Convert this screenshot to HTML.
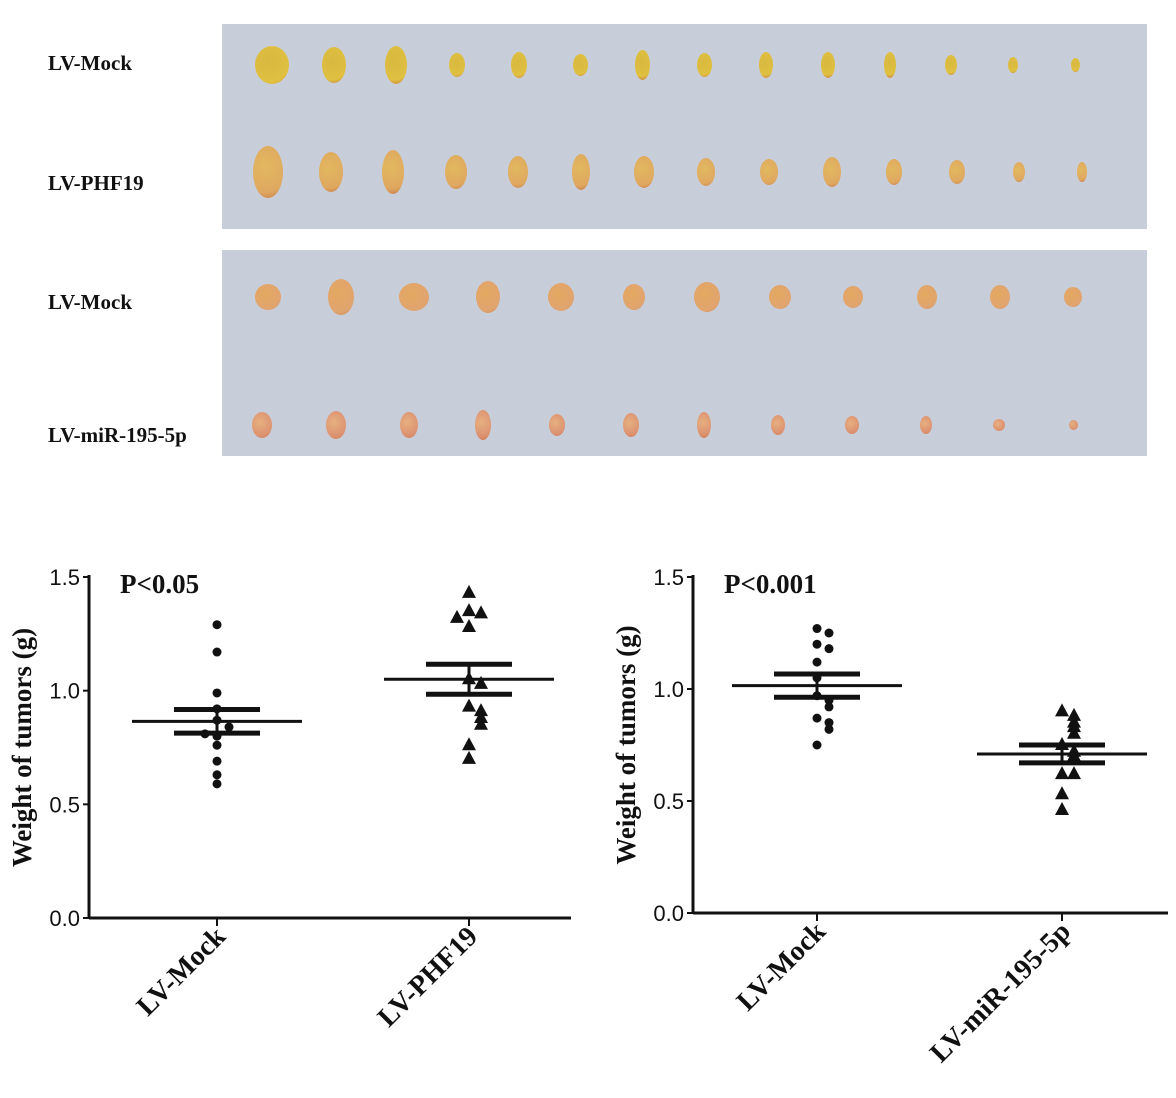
<!DOCTYPE html>
<html><head><meta charset="utf-8"><style>
body{margin:0;width:1176px;height:1098px;background:#fff;position:relative;overflow:hidden;font-family:"Liberation Serif",serif}
.lbl{position:absolute;font-weight:bold;font-size:21px;color:#111}
.panel{position:absolute;left:222px;width:925px;background:#c8ced9}
.t{position:absolute;border-radius:50%}
</style></head><body>
<div class="panel" style="top:24px;height:205px"></div>
<div class="panel" style="top:250px;height:206px"></div>
<div class="lbl" style="left:48px;top:51px">LV-Mock</div>
<div class="lbl" style="left:48px;top:171px">LV-PHF19</div>
<div class="lbl" style="left:48px;top:290px">LV-Mock</div>
<div class="lbl" style="left:48px;top:423px">LV-miR-195-5p</div>
<div id="tumors"></div>
<svg id="chart" width="1176" height="1098" style="position:absolute;left:0;top:0"></svg>
<script>
const rowY=[65,172,297,425];
const rowCounts=[14,14,12,12];
const rowW=[[34,24,22,16,16,15,15,15,14,14,12,12,10,9],[30,24,22,22,20,18,20,18,18,18,16,16,12,10],[26,26,30,24,26,22,26,22,20,20,20,18],[20,20,18,16,16,16,14,14,14,12,12,9]];
const rowH=[[38,36,38,24,26,22,30,24,26,26,26,20,16,14],[52,40,44,34,32,36,32,28,26,30,26,24,20,20],[26,36,28,32,28,26,30,24,22,24,24,20],[26,28,26,30,22,24,26,20,18,18,12,10]];
const rowCol=[["#d8b940","#e0c040"],["#e2b860","#dfa860"],["#e4a860","#e0a470"],["#e6b080","#dc9070"]];
const rowX0=[272,268,268,262], rowX1=[1075,1082,1073,1073];
const tc=document.getElementById('tumors');
rowY.forEach((y,r)=>{for(let i=0;i<rowCounts[r];i++){
 const x=rowX0[r]+(rowX1[r]-rowX0[r])*i/(rowCounts[r]-1);
 const d=document.createElement('div');d.className='t';
 
 
 const w=rowW[r][i],h=rowH[r][i];
 d.style.cssText=`left:${x-w/2}px;top:${y-h/2}px;width:${w}px;height:${h}px;background:radial-gradient(circle at 40% 40%,${rowCol[r][0]},${rowCol[r][1]} 70%,#c87848)`;
 tc.appendChild(d);}});
</script>
<script>
const categoriesL=["LV-Mock","LV-PHF19"];
const categoriesR=["LV-Mock","LV-miR-195-5p"];
const yTicks=[0,0.5,1.0,1.5];
const yTickLabels=["0.0","0.5","1.0","1.5"];
const mockL=[1.29,1.17,0.99,0.92,0.87,0.84,0.80,0.81,0.76,0.69,0.63,0.59];
const phf19=[1.43,1.35,1.34,1.32,1.28,1.05,1.03,0.93,0.91,0.88,0.85,0.76,0.70];
const mockR=[1.27,1.25,1.20,1.18,1.12,1.05,0.97,0.95,0.92,0.87,0.85,0.82,0.75];
const mir195=[0.90,0.88,0.85,0.83,0.80,0.75,0.72,0.70,0.62,0.62,0.53,0.46];
const meanL=[0.865,1.05], semL=[0.052,0.066];
const meanR=[1.015,0.71], semR=[0.052,0.04];
const pLabels=["P<0.05","P<0.001"];
const NS='http://www.w3.org/2000/svg';
const svg=document.getElementById('chart');
function el(t,a,txt){const e=document.createElementNS(NS,t);for(const k in a)e.setAttribute(k,a[k]);if(txt!==undefined)e.textContent=txt;svg.appendChild(e);return e;}
function jitter(vals){
 return vals.map((v,i)=>{let n=0;for(let j=0;j<i;j++)if(Math.abs(vals[j]-v)<0.035)n++;return n%2?(n+1)/2*12*(n%4==1?1:-1):(n?-n/2*12:0);});}
function chart(o){
 const y=v=>o.y0-(o.y0-o.y1)*v/1.5;
 const xc=i=>o.cx[i];
 el('line',{x1:o.ax,y1:o.y1-2,x2:o.ax,y2:o.y0+1,stroke:'#111','stroke-width':3,});
 el('line',{x1:o.ax,y1:o.y0,x2:o.xEnd,y2:o.y0,stroke:'#111','stroke-width':3,});
 yTicks.forEach((t,i)=>{el('line',{x1:o.ax-6,x2:o.ax,y1:y(t),y2:y(t),stroke:'#111','stroke-width':2,});
  el('text',{x:o.ax-9,y:y(t)+8,'text-anchor':'end','font-family':'Liberation Sans, sans-serif','font-size':22,fill:'#111',},yTickLabels[i]);});
 o.cats.forEach((c,i)=>{el('line',{x1:xc(i),x2:xc(i),y1:o.y0,y2:o.y0+8,stroke:'#111','stroke-width':2,});
  el('text',{x:xc(i)+10,y:o.y0+20,'text-anchor':'end','font-weight':'bold','font-size':28,fill:'#111',transform:`rotate(-45 ${xc(i)+10} ${o.y0+20})`,},c);});
 el('text',{x:0,y:0,'text-anchor':'middle','font-weight':'bold','font-size':27,fill:'#111',transform:`translate(${o.ax-58},${(o.y0+o.y1)/2}) rotate(-90)`,},'Weight of tumors (g)');
 el('text',{x:o.ax+31,y:o.y1+16,'font-weight':'bold','font-size':27,fill:'#111',},o.p);
 const j0=jitter(o.s0);
 o.s0.forEach((v,i)=>el('circle',{cx:xc(0)+j0[i],cy:y(v),r:4.5,fill:'#111',}));
 const j1=jitter(o.s1);
 o.s1.forEach((v,i)=>{const X=xc(1)+j1[i],Y=y(v);el('path',{d:`M${X},${Y-8}L${X+7},${Y+5}L${X-7},${Y+5}Z`,fill:'#111',});});
 o.mean.forEach((m,i)=>{
  el('line',{x1:xc(i)-85,x2:xc(i)+85,y1:y(m),y2:y(m),stroke:'#111','stroke-width':3,});
  el('line',{x1:xc(i)-43,x2:xc(i)+43,y1:y(m+o.sem[i]),y2:y(m+o.sem[i]),stroke:'#111','stroke-width':5,});
  el('line',{x1:xc(i)-43,x2:xc(i)+43,y1:y(m-o.sem[i]),y2:y(m-o.sem[i]),stroke:'#111','stroke-width':5,});
  el('line',{x1:xc(i),x2:xc(i),y1:y(m+o.sem[i]),y2:y(m-o.sem[i]),stroke:'#111','stroke-width':3,});});
}
chart({ax:89,xEnd:571,y0:918,y1:577,cx:[217,469],cats:categoriesL,s0:mockL,s1:phf19,mean:meanL,sem:semL,p:pLabels[0]});
chart({ax:693,xEnd:1168,y0:913,y1:577,cx:[817,1062],cats:categoriesR,s0:mockR,s1:mir195,mean:meanR,sem:semR,p:pLabels[1]});
</script>
</body></html>
